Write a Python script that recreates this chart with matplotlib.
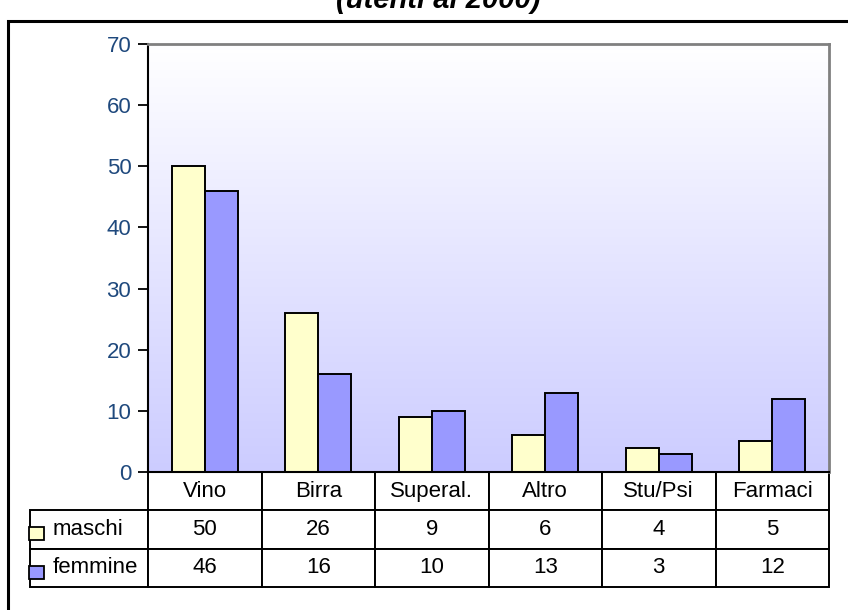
import numpy as np
import matplotlib
matplotlib.use("Agg")
import matplotlib.pyplot as plt
from matplotlib.patches import Rectangle
from matplotlib.colors import LinearSegmentedColormap

plt.rcParams['font.family'] = ['Liberation Sans', 'DejaVu Sans']

# data
categories = ["Vino", "Birra", "Superal.", "Altro", "Stu/Psi", "Farmaci"]
series_names = ["maschi", "femmine"]
maschi = [50, 26, 9, 6, 4, 5]
femmine = [46, 16, 10, 13, 3, 12]
series_colors = ["#FFFFCC", "#9999FF"]
title = "(utenti al 2000)"

W, H = 848, 610
fig = plt.figure(figsize=(W / 100, H / 100), dpi=100)

# plot area in pixels (left, top, right, bottom)
pl, pt, pr, pb = 148, 44, 829, 472
ax = fig.add_axes([pl / W, (H - pb) / H, (pr - pl) / W, (pb - pt) / H])

x = np.arange(len(categories))
bw = 0.29

# gradient background, white at the top
grad = np.linspace(0, 1, 256).reshape(-1, 1)
cmap = LinearSegmentedColormap.from_list("bg", ["#FFFFFF", "#CCCCFF"])
ax.imshow(grad, cmap=cmap, aspect="auto", extent=[-0.5, len(categories) - 0.5, 0, 70],
          origin="upper", zorder=0)

for vals, off, col in [(maschi, -bw / 2, series_colors[0]), (femmine, bw / 2, series_colors[1])]:
    ax.bar(x + off, vals, width=bw, color=col, edgecolor="black", linewidth=1.4, zorder=2)

ax.set_xlim(-0.5, len(categories) - 0.5)
ax.set_ylim(0, 70)
ax.set_yticks(range(0, 71, 10))
ax.set_xticks([])
ax.tick_params(axis="y", direction="out", length=7, width=1.3, colors="black",
               labelcolor="#1F497D", labelsize=16, pad=5)
for s in ["top", "right"]:
    ax.spines[s].set_color("#808080")
    ax.spines[s].set_linewidth(2)
for s in ["left", "bottom"]:
    ax.spines[s].set_color("black")
    ax.spines[s].set_linewidth(1.5)

# data table under the plot (widths in axes fractions)
lab_l = 23
row_h = 115
pw = pr - pl
cell_text = [[str(v) for v in maschi], [str(v) for v in femmine]]
tbl = ax.table(cellText=cell_text, rowLabels=series_names, colLabels=categories,
               cellLoc="center", rowLoc="left",
               colWidths=[1 / len(categories)] * len(categories),
               bbox=[0, -row_h / (pb - pt), 1, row_h / (pb - pt)])
tbl.auto_set_font_size(False)
tbl.set_fontsize(16)
for (r, c), cell in tbl.get_celld().items():
    cell.set_linewidth(1.4)
    cell.set_edgecolor("black")
    cell.set_facecolor("white")
    if c == -1:
        cell.set_width((pl - lab_l) / pw)
        cell.PAD = 24 / (pl - lab_l)

# legend swatches inside row labels
rows_y = [510, 549, 587]
for i, col in enumerate(series_colors):
    cy = (rows_y[i] + rows_y[i + 1]) / 2 + 3.5
    fig.patches.append(Rectangle((29 / W, (H - cy - 7) / H), 15 / W, 13 / H,
                                 transform=fig.transFigure, facecolor=col,
                                 edgecolor="black", linewidth=1.3))

# outer frame (extends past the image edges)
fig.patches.append(Rectangle((8 / W, -20 / H), (W + 30) / W, (H - 21 + 20) / H,
                             transform=fig.transFigure, fill=False,
                             edgecolor="black", linewidth=2.2))

# title, cut off at the top like the source
fig.text(438 / W, (H - 8) / H, title, ha="center", va="baseline",
         fontsize=21, fontweight="bold", fontstyle="italic")

fig.savefig("out.png", dpi=100)
